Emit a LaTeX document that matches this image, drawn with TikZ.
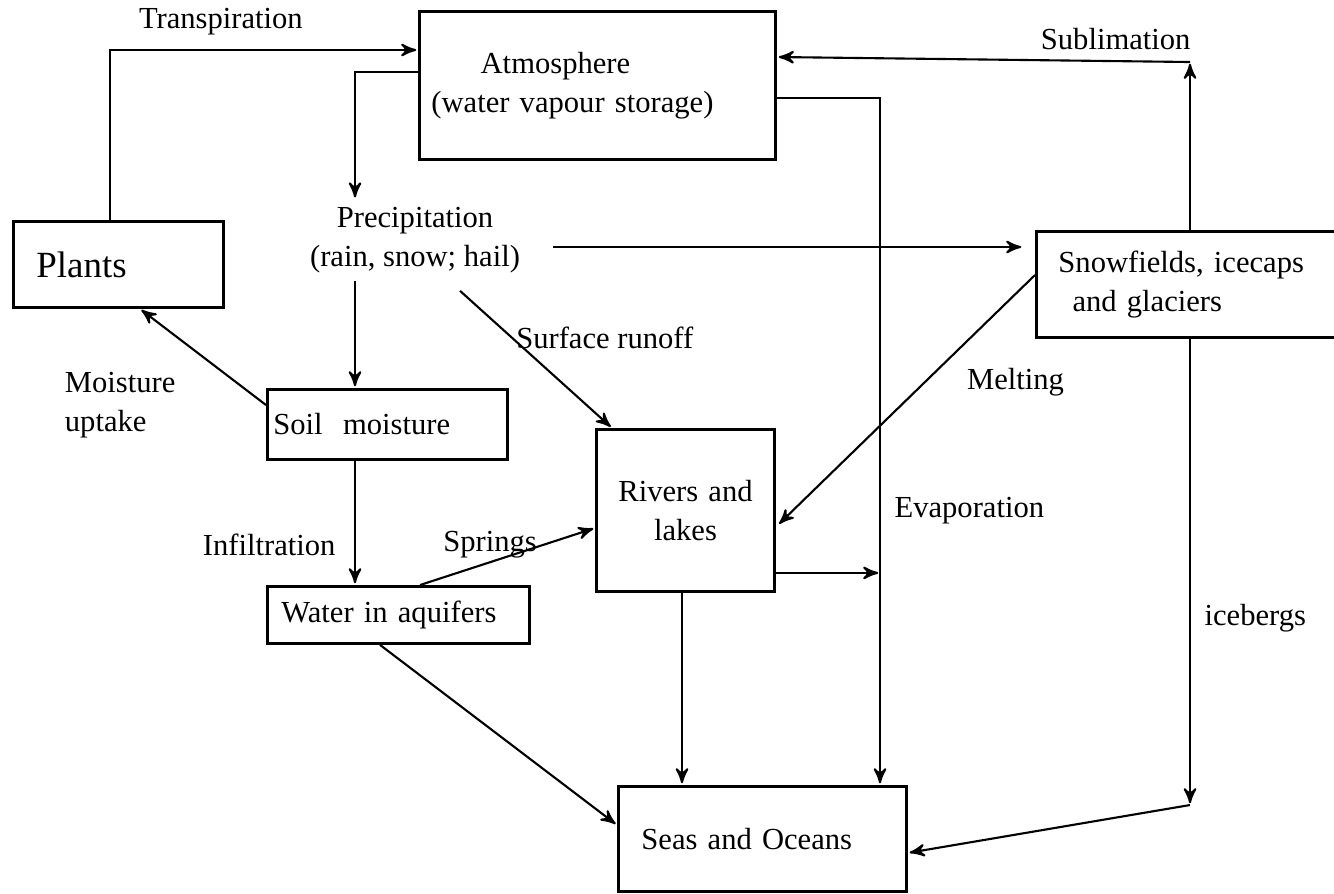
\documentclass[tikz,border=0pt]{standalone}
\usepackage{fontspec}
\setmainfont{Liberation Serif}
\usepackage{tikz}
\usetikzlibrary{arrows,calc,positioning}

\begin{document}
\begin{tikzpicture}[x=0.01cm,y=-0.01cm,>=stealth',semithick,font=\fontsize{8.7}{11}\selectfont]
	\tikzset{box/.style={draw,thick,anchor=north west,align=left},
		flow/.style={->,shorten >=0.5pt},
		lbl/.style={inner sep=1pt}}
	\useasboundingbox (0,0) rectangle (1334,893);
	\node[box,text width=1.64cm,inner xsep=0.23cm,minimum height=0.86cm,font=\fontsize{10.5}{12}\selectfont] (plants) at (12,220) {Plants};
	\node[box,text width=3.32cm,inner xsep=0.12cm,minimum height=1.48cm] (atm) at (418,10) {\hspace*{14pt}Atmosphere\\(water vapour storage)};
	\node[box,text width=2.66cm,inner xsep=0.22cm,minimum height=1.06cm] (snow) at (1035,230) {Snowfields, icecaps\\\hspace*{4pt}and glaciers};
	\node[box,text width=2.28cm,inner xsep=0.06cm,minimum height=0.70cm] (soil) at (266,388) {Soil~~moisture};
	\node[box,text width=1.50cm,inner xsep=0.14cm,minimum height=1.62cm,align=center] (rivers) at (595,428) {Rivers and\\lakes};
	\node[box,text width=2.34cm,inner xsep=0.14cm,minimum height=0.57cm] (aquifer) at (266,585) {Water in aquifers};
	\node[box,text width=2.42cm,inner xsep=0.23cm,minimum height=1.05cm] (seas) at (617,785) {Seas and Oceans};
	\node[align=center,inner sep=2pt] (prec) at (415,240) {Precipitation\\(rain, snow; hail)};
	\coordinate (pcol) at (355,0);
	\coordinate (ecol) at (880,0);
	\coordinate (subl) at (1190,62);
	\coordinate (ice) at (1190,805);

	\draw[flow] ($(plants.north west)+(98,0)$) |- node[lbl,pos=0.68,above=3pt] (ltransp) {Transpiration} ($(atm.north west)+(0,40)$);
	\draw[flow] ($(atm.north west)+(0,62)$) -| (pcol |- prec.north);
	\draw[flow] (pcol |- prec.south) -- (pcol |- soil.north);
	\draw[flow] ($(prec.east)+(25,7)$) -- ($(prec.east -| snow.west)+(-12,7)$);
	\draw[flow] ($(prec.south)+(45,10)$) -- node[lbl,pos=0.34,anchor=west] (lrunoff) {Surface runoff} ($(rivers.north west)+(17,0)$);
	\draw[flow] ($(soil.north west)+(0,17)$) -- node[lbl,pos=0,anchor=east,xshift=-0.86cm,align=left] (luptake) {Moisture\\uptake} ($(plants.south west)+(128,0)$);
	\draw[flow] (pcol |- soil.south) -- node[lbl,pos=0.68,left=0.15cm] (linfil) {Infiltration} (pcol |- aquifer.north);
	\draw[flow] ($(aquifer.north west)+(154,0)$) -- node[lbl,pos=0.4,above] (lsprings) {Springs} ($(rivers.north west)+(0,100)$);
	\draw[flow] ($(aquifer.south west)+(114,0)$) -- ($(seas.north west)+(0,40)$);
	\draw[flow] ($(rivers.south west)+(87,0)$) -- ($(seas.north west)+(65,0)$);
	\draw[flow] ($(atm.north east)+(0,88)$) -| node[lbl,pos=0.8,anchor=west,xshift=0.1cm] (levap) {Evaporation} (ecol |- seas.north);
	\draw[flow] ($(rivers.south east)+(0,-20)$) -- ($(rivers.south east -| ecol)+(0,-20)$);
	\draw[flow] ($(snow.north west)+(0,45)$) -- node[lbl,pos=0.43,anchor=west,xshift=0.38cm] (lmelt) {Melting} ($(rivers.north east)+(2,97)$);
	\draw[flow] ($(snow.north west)+(155,0)$) -- (subl);
	\draw[flow] (subl) -- node[lbl,pos=0.18,above=2pt] (lsubl) {Sublimation} ($(atm.north east)+(0,47)$);
	\draw[flow] ($(snow.south west)+(155,0)$) -- node[lbl,pos=0.6,anchor=west,xshift=0.1cm] (lice) {icebergs} (ice);
	\draw[flow] (ice) -- ($(seas.south east)+(0,-40)$);
\end{tikzpicture}
\end{document}
